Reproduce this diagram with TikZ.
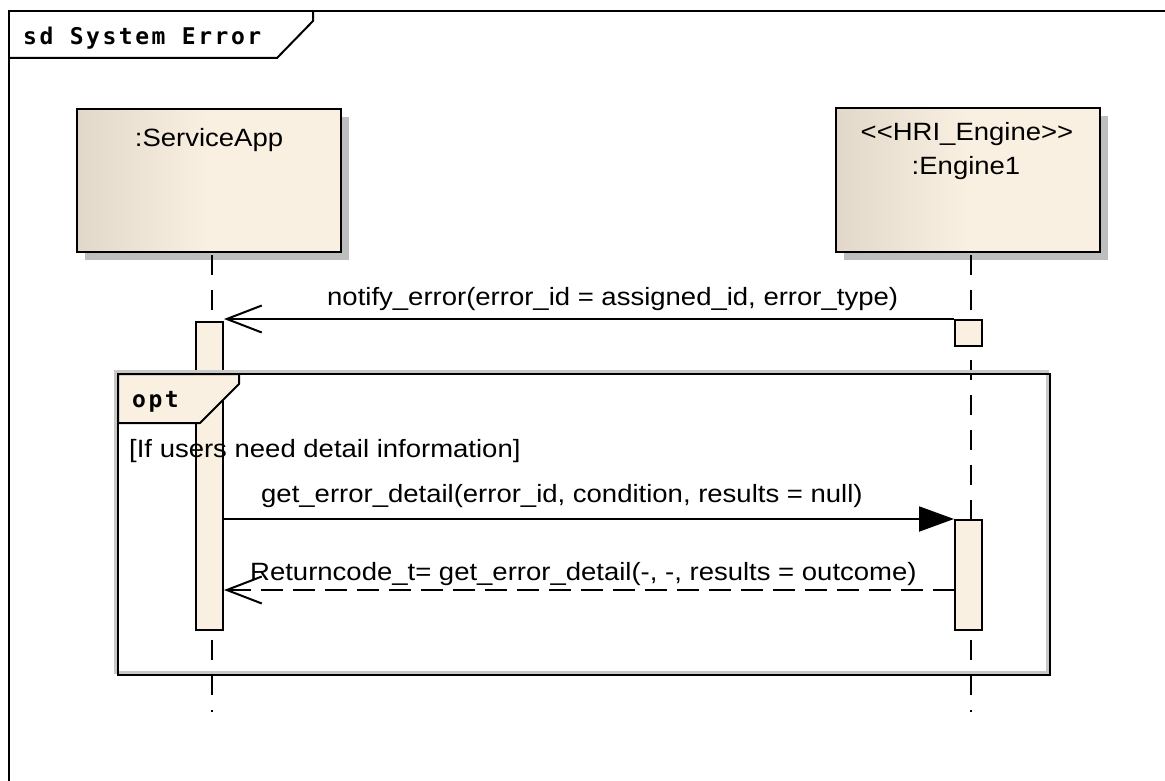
\documentclass[tikz,border=0pt]{standalone}
\usepackage{fontspec}
\setmainfont{Liberation Sans}[FakeStretch=1.1]
\newfontfamily\monofont{DejaVu Sans Mono}[LetterSpace=11]
\usetikzlibrary{arrows.meta,shadows}
\definecolor{cream}{HTML}{FAF0E2}
\definecolor{tanc}{HTML}{E2D8C9}
\definecolor{shadowgray}{HTML}{BEBEBE}
\definecolor{framegray}{HTML}{C8C8C8}
\pgfdeclarehorizontalshading{lifeshade}{100bp}{color(0bp)=(tanc); color(25bp)=(tanc); color(50bp)=(cream); color(100bp)=(cream)}
\tikzset{
  lifebox/.style={draw, line width=2pt, shading=lifeshade, minimum width=264pt, minimum height=143pt, inner sep=0pt,
    drop shadow={shadow xshift=8pt, shadow yshift=-8pt, fill=shadowgray, opacity=1}},
  actbar/.style={draw, line width=2pt, fill=cream, inner sep=0pt, minimum width=27pt},
  lifeline/.style={line width=2pt, dash pattern=on 20pt off 15pt},
  msgfont/.style={font=\fontsize{25}{28}\selectfont, inner sep=0pt},
  titlefont/.style={font=\monofont\bfseries\fontsize{23}{26}\selectfont, inner sep=0pt},
  callmsg/.style={line width=2pt, -{Triangle[length=35pt,width=25pt]}},
  asyncmsg/.style={line width=2pt, -{Straight Barb[length=35pt,width=27pt]}},
  retmsg/.style={line width=2pt, dash pattern=on 22pt off 10pt, -{Straight Barb[length=35pt,width=27pt]}},
}
\begin{document}
\begin{tikzpicture}[x=1pt,y=-1pt]
\useasboundingbox (0,0) rectangle (1165,781);
% outer frame
\draw[line width=2pt] (9,781) -- (9,11) -- (1165,11);
\draw[line width=2pt] (9,58) -- (277,58) -- (313,21) -- (313,11);
\node[titlefont, anchor=base west] (title) at (23,45) {sd System Error};
% lifeline heads
\node[lifebox] (sa) at (209,180.5) {};
\node[lifebox] (eng) at (968,180) {};
\node[msgfont, anchor=base] (saname) at (209,147) {:ServiceApp};
\node[msgfont, anchor=base] (engst) at (967,141) {<{}<HRI\_Engine>{}>};
\node[msgfont, anchor=base] (engname) at (966,175) {:Engine1};
% lifelines
\coordinate (satop) at (212,255);
\coordinate (sabot) at (212,712);
\coordinate (engtop) at (971,255);
\coordinate (engbot) at (971,712);
\draw[lifeline] (satop) -- (sabot);
\draw[lifeline] (engtop) -- (engbot);
% activation bars
\node[actbar, minimum height=308pt] (saact) at (209.5,476) {};
\node[actbar, minimum height=26pt] (engsm) at (968.5,333) {};
% opt fragment
\draw[line width=3pt, framegray] (115,371) rectangle (1047,672);
\draw[line width=2pt] (118,374) rectangle (1050,675);
\filldraw[line width=2pt, fill=cream] (118,374) -- (239,374) -- (239,384) -- (200,423) -- (118,423) -- cycle;
\node[titlefont, anchor=base west] (optlbl) at (132,407) {opt};
\node[msgfont, anchor=base west] (guard) at (129,457) {[If users need detail information]};
\node[actbar, minimum height=110pt] (engact) at (968.5,575) {};
% messages
\draw[asyncmsg] (engsm.north west) -- (engsm.north west -| saact.east);
\node[msgfont, anchor=base west] (m1) at (327,305) {notify\_error(error\_id = assigned\_id, error\_type)};
\draw[callmsg] (engact.north west -| saact.east) -- (engact.north west);
\node[msgfont, anchor=base west] (m2) at (261,502) {get\_error\_detail(error\_id, condition, results = null)};
\coordinate (r1) at (955,590);
\draw[retmsg] (r1) -- (r1 -| saact.east);
\node[msgfont, anchor=base west] (m3) at (250,580) {Returncode\_t= get\_error\_detail(-, -, results = outcome)};
\end{tikzpicture}
\end{document}
